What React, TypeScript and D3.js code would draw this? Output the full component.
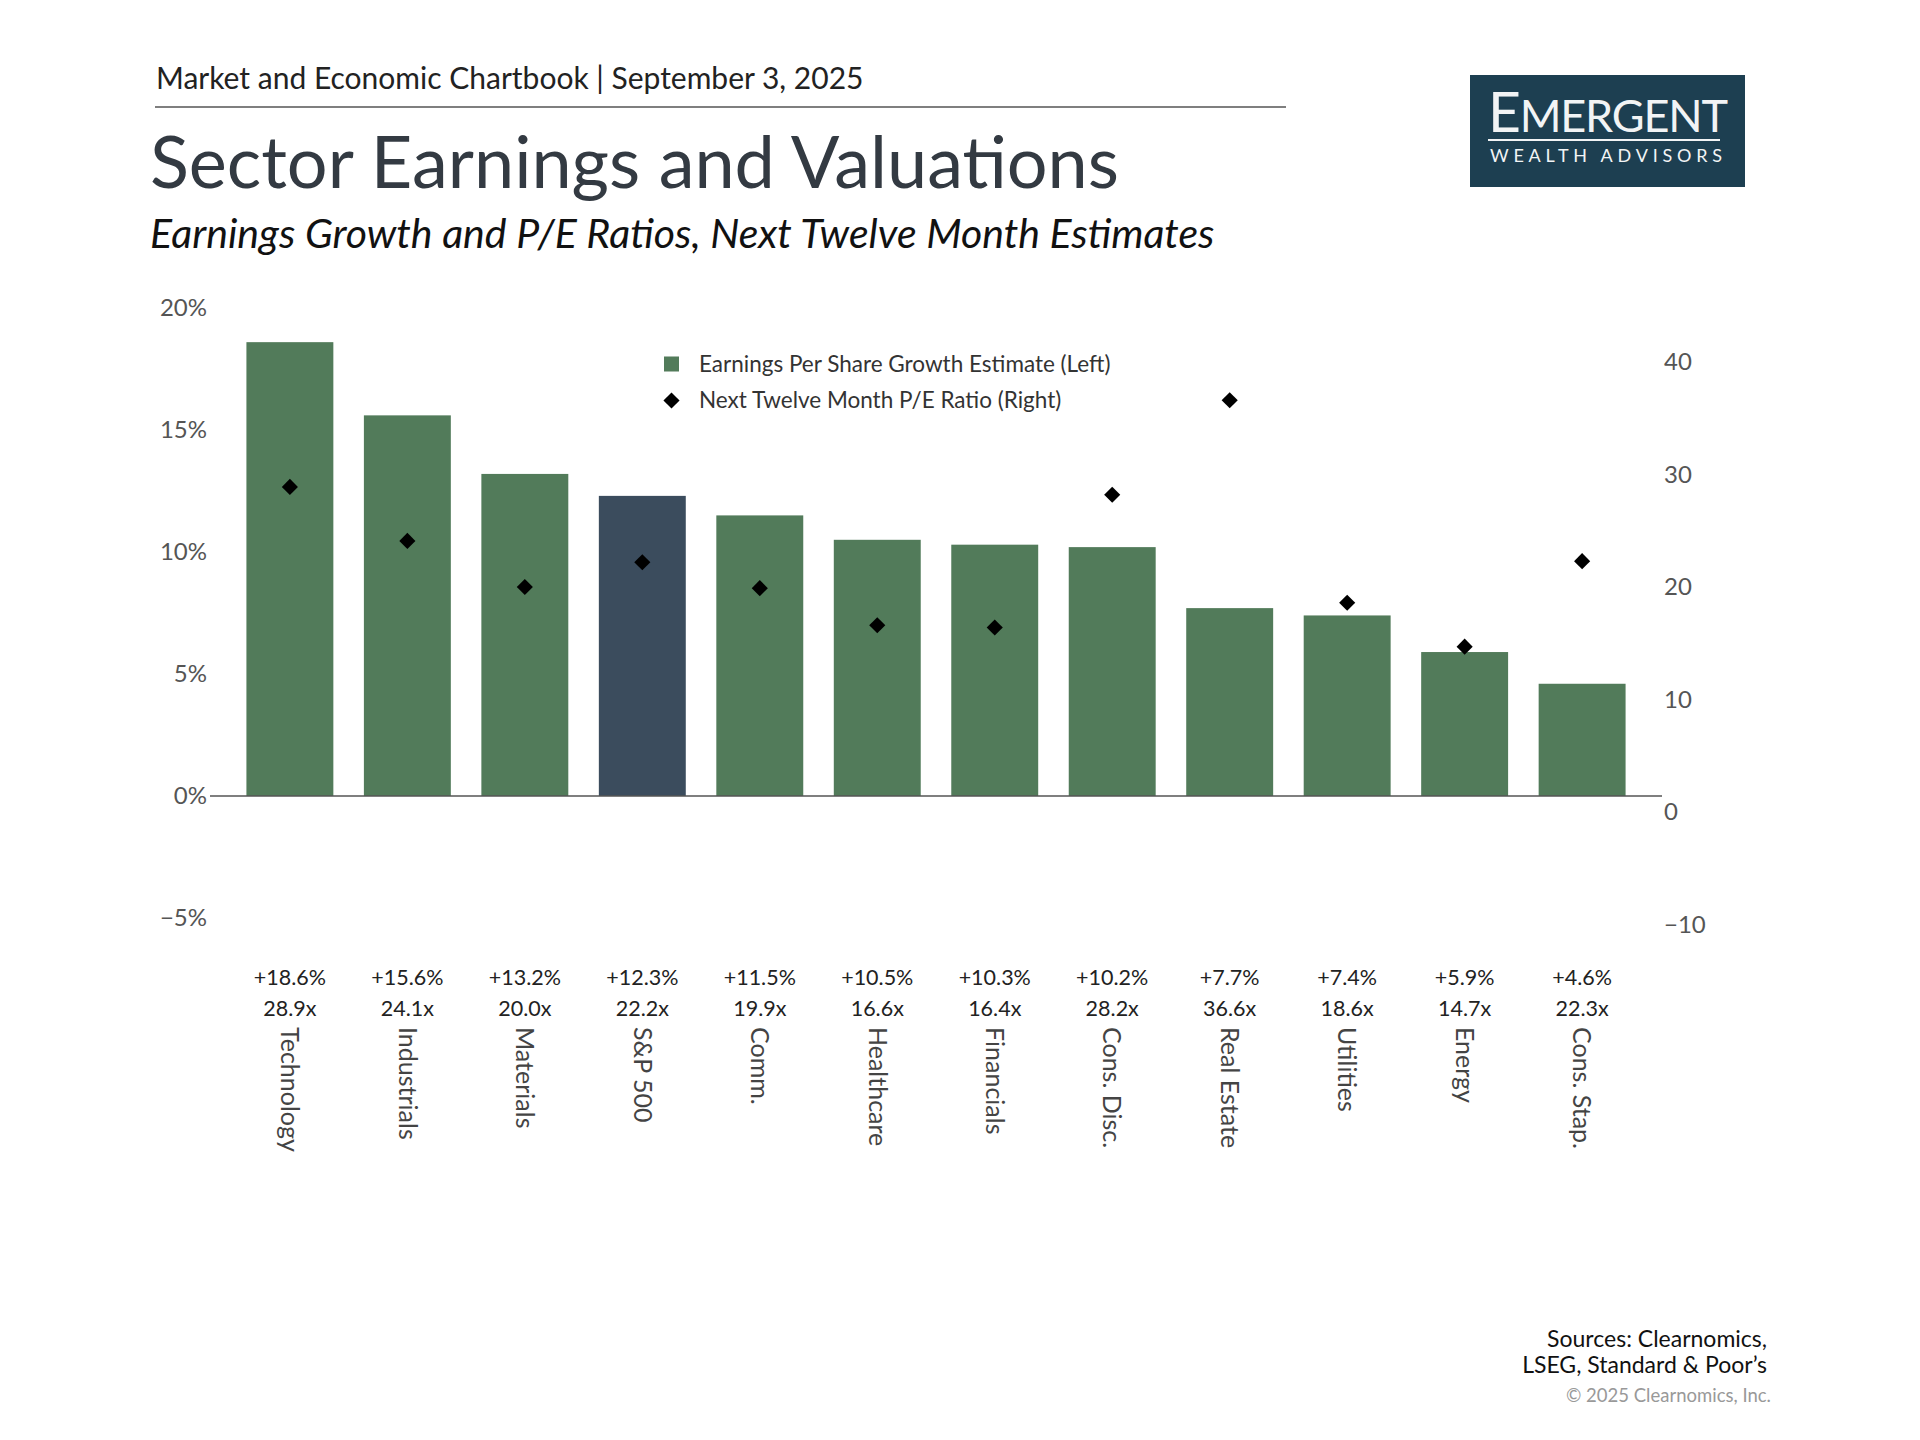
import React, { useEffect, useRef } from "react";
import * as d3 from "d3";

// chart values
const sectors = [
  "Technology",
  "Industrials",
  "Materials",
  "S&P 500",
  "Comm.",
  "Healthcare",
  "Financials",
  "Cons. Disc.",
  "Real Estate",
  "Utilities",
  "Energy",
  "Cons. Stap.",
];
const epsGrowth = [18.6, 15.6, 13.2, 12.3, 11.5, 10.5, 10.3, 10.2, 7.7, 7.4, 5.9, 4.6];
const peRatio = [28.9, 24.1, 20.0, 22.2, 19.9, 16.6, 16.4, 28.2, 36.6, 18.6, 14.7, 22.3];
const leftTicks = [-5, 0, 5, 10, 15, 20];
const rightTicks = [-10, 0, 10, 20, 30, 40];
const highlightSector = "S&P 500";
const legendLabels = ["Earnings Per Share Growth Estimate (Left)", "Next Twelve Month P/E Ratio (Right)"];

const W = 1920;
const H = 1440;
const FONT = "Lato, 'Noto Sans', sans-serif";
const GREEN = "#527b5a";
const NAVY = "#3b4c5d";

const App = () => {
  const ref = useRef<SVGSVGElement>(null);

  useEffect(() => {
    const svg = d3.select(ref.current);
    svg.selectAll("*").remove();

    const data = sectors.map((s, i) => ({ sector: s, growth: epsGrowth[i], pe: peRatio[i] }));

    // header
    svg
      .append("text")
      .attr("x", 156)
      .attr("y", 89)
      .attr("font-family", FONT)
      .attr("font-size", 30)
      .attr("fill", "#222")
      .text("Market and Economic Chartbook | September 3, 2025");
    svg
      .append("line")
      .attr("x1", 155)
      .attr("x2", 1286)
      .attr("y1", 107)
      .attr("y2", 107)
      .attr("stroke", "#555")
      .attr("stroke-width", 1.5);
    svg
      .append("text")
      .attr("x", 150)
      .attr("y", 188)
      .attr("font-family", FONT)
      .attr("font-size", 72)
      .attr("fill", "#333a42")
      .text("Sector Earnings and Valuations");
    svg
      .append("text")
      .attr("x", 150)
      .attr("y", 248)
      .attr("font-family", FONT)
      .attr("font-style", "italic")
      .attr("font-size", 41)
      .attr("fill", "#111")
      .text("Earnings Growth and P/E Ratios, Next Twelve Month Estimates");

    // logo
    const logo = svg.append("g");
    logo.append("rect").attr("x", 1470).attr("y", 75).attr("width", 275).attr("height", 112).attr("fill", "#1d3f51");
    const em = logo
      .append("text")
      .attr("x", 1488)
      .attr("y", 132)
      .attr("font-family", FONT)
      .attr("fill", "#f2f4f5")
      .attr("textLength", 240)
      .attr("lengthAdjust", "spacing");
    em.append("tspan").attr("font-size", 57).text("E");
    em.append("tspan").attr("font-size", 45).text("MERGENT");
    logo
      .append("line")
      .attr("x1", 1488)
      .attr("x2", 1720)
      .attr("y1", 140)
      .attr("y2", 140)
      .attr("stroke", "#f2f4f5")
      .attr("stroke-width", 2);
    logo
      .append("text")
      .attr("x", 1490)
      .attr("y", 162)
      .attr("font-family", FONT)
      .attr("font-size", 18)
      .attr("fill", "#f2f4f5")
      .attr("textLength", 232)
      .attr("lengthAdjust", "spacing")
      .text("WEALTH ADVISORS");

    // scales
    const x = d3.scaleBand().domain(sectors).range([210, 1662]).paddingInner(0.26).paddingOuter(0.31);
    const yL = d3.scaleLinear().domain([-5, 20]).range([918, 308]);
    const yR = d3.scaleLinear().domain([-10, 40]).range([924.5, 362]);
    const fmt = d3.format("d");

    // left axis labels
    svg
      .append("g")
      .selectAll("text")
      .data(leftTicks)
      .join("text")
      .attr("x", 207)
      .attr("y", (d) => yL(d))
      .attr("dy", "0.35em")
      .attr("text-anchor", "end")
      .attr("font-family", FONT)
      .attr("font-size", 24)
      .attr("fill", "#555")
      .text((d) => fmt(d) + "%");

    // right axis labels
    svg
      .append("g")
      .selectAll("text")
      .data(rightTicks)
      .join("text")
      .attr("x", 1664)
      .attr("y", (d) => yR(d))
      .attr("dy", "0.35em")
      .attr("text-anchor", "start")
      .attr("font-family", FONT)
      .attr("font-size", 24)
      .attr("fill", "#555")
      .text((d) => fmt(d));

    // bars
    svg
      .append("g")
      .selectAll("rect")
      .data(data)
      .join("rect")
      .attr("x", (d) => x(d.sector)!)
      .attr("y", (d) => yL(d.growth))
      .attr("width", x.bandwidth())
      .attr("height", (d) => yL(0) - yL(d.growth))
      .attr("fill", (d) => (d.sector === highlightSector ? NAVY : GREEN));

    // zero line
    svg
      .append("line")
      .attr("x1", 210)
      .attr("x2", 1662)
      .attr("y1", yL(0))
      .attr("y2", yL(0))
      .attr("stroke", "#555")
      .attr("stroke-width", 1.5);

    // diamonds
    const diamond = d3.symbol(d3.symbolSquare, 130)();
    svg
      .append("g")
      .selectAll("path")
      .data(data)
      .join("path")
      .attr("d", diamond)
      .attr("transform", (d) => `translate(${x(d.sector)! + x.bandwidth() / 2},${yR(d.pe)}) rotate(45)`)
      .attr("fill", "#000");

    // category labels
    const cats = svg
      .append("g")
      .selectAll("g")
      .data(data)
      .join("g")
      .attr("transform", (d) => `translate(${x(d.sector)! + x.bandwidth() / 2},0)`)
      .attr("font-family", FONT);
    cats
      .append("text")
      .attr("y", 985)
      .attr("text-anchor", "middle")
      .attr("font-size", 21.5)
      .attr("fill", "#222")
      .text((d) => "+" + d.growth.toFixed(1) + "%");
    cats
      .append("text")
      .attr("y", 1016)
      .attr("text-anchor", "middle")
      .attr("font-size", 21.5)
      .attr("fill", "#222")
      .text((d) => d.pe.toFixed(1) + "x");
    cats
      .append("text")
      .attr("transform", "translate(0,1027) rotate(90)")
      .attr("dy", "0.35em")
      .attr("text-anchor", "start")
      .attr("font-size", 25)
      .attr("fill", "#444")
      .text((d) => d.sector);

    // legend
    const legend = svg.append("g").attr("font-family", FONT);
    legend.append("rect").attr("x", 664).attr("y", 356.5).attr("width", 15).attr("height", 15).attr("fill", GREEN);
    legend
      .append("path")
      .attr("d", diamond)
      .attr("transform", "translate(671.5,400.5) rotate(45)")
      .attr("fill", "#000");
    legend
      .selectAll("text")
      .data(legendLabels)
      .join("text")
      .attr("x", 699)
      .attr("y", (d, i) => 364 + i * 36.5)
      .attr("dy", "0.35em")
      .attr("font-size", 22.5)
      .attr("fill", "#333")
      .text((d) => d);

    // footer
    const foot = svg.append("g").attr("font-family", FONT).attr("text-anchor", "end");
    foot.append("text").attr("x", 1767).attr("y", 1347).attr("font-size", 23).attr("fill", "#111").text("Sources: Clearnomics,");
    foot
      .append("text")
      .attr("x", 1767)
      .attr("y", 1373)
      .attr("font-size", 23)
      .attr("fill", "#111")
      .text("LSEG, Standard & Poor\u2019s");
    foot
      .append("text")
      .attr("x", 1771)
      .attr("y", 1402)
      .attr("font-size", 18.5)
      .attr("fill", "#999")
      .text("\u00a9 2025 Clearnomics, Inc.");
  }, []);

  return (
    <svg
      ref={ref}
      width={W}
      height={H}
      viewBox={`0 0 ${W} ${H}`}
      style={{ position: "absolute", left: 0, top: 0, background: "#fff", display: "block" }}
    ></svg>
  );
};

export default App;
